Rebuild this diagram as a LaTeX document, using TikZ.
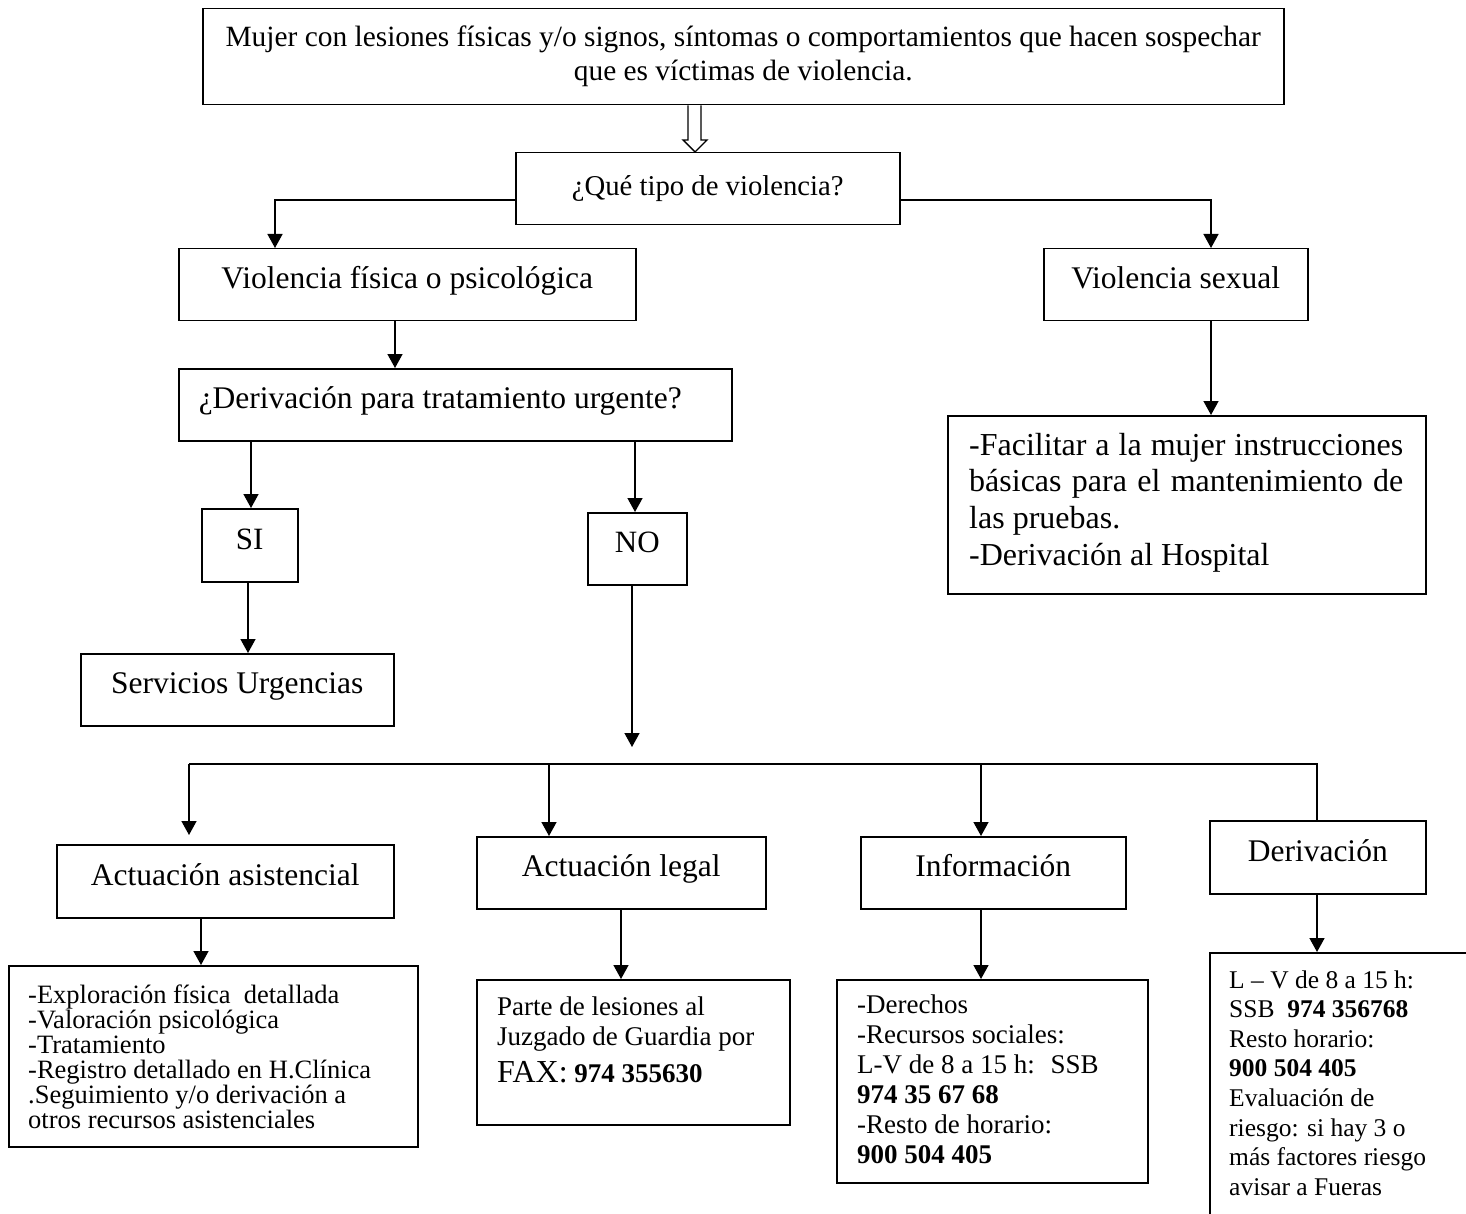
\documentclass[tikz,border=0pt]{standalone}
\usepackage{fontspec}
\setmainfont{Liberation Serif}
\usetikzlibrary{arrows.meta}
\newcommand\fsz[2]{\fontsize{#1}{#2}\selectfont}
\tikzset{
  box/.style={draw, line width=1.5pt, inner sep=0pt, anchor=north west, align=center},
  lbl/.style={text height=22pt, text depth=14pt},
  txt/.style={inner sep=0pt, anchor=base west, align=flush left},
  ln/.style={line width=1.5pt},
  arr/.style={line width=1.5pt, -{Triangle[length=14pt,width=15pt]}},
}
\begin{document}
\begin{tikzpicture}[x=1pt,y=-1pt]
\useasboundingbox (0,0) rectangle (1466,1214);
\fill[white] (0,0) rectangle (1466,1214);
\clip (0,0) rectangle (1466,1214);

% boxes
\node[box, minimum width=1081pt, minimum height=96pt, font=\fsz{29.4}{34}] (top) at (202,8)
  {Mujer con lesiones físicas y/o signos, síntomas o comportamientos que hacen sospechar\\que es víctimas de violencia.};
\node[box, minimum width=384pt, minimum height=72pt, font=\fsz{28.7}{30}] (tipo) at (515,152) {¿Qué tipo de violencia?};
\node[box, lbl, minimum width=457pt, minimum height=72pt, font=\fsz{31.5}{36}] (fis) at (178,248) {Violencia física o psicológica};
\node[box, lbl, minimum width=264pt, minimum height=72pt, font=\fsz{31.5}{36}] (sex) at (1043,248) {Violencia sexual};
\node[box, lbl, minimum height=72pt, inner xsep=20pt, text width=513pt, align=flush left, font=\fsz{31.5}{36}] (deriv) at (178,368) {¿Derivación para tratamiento urgente?};
\node[box, lbl, minimum width=96pt, minimum height=73pt, font=\fsz{31}{36}] (si) at (201,508) {SI};
\node[box, lbl, minimum width=99pt, minimum height=72pt, font=\fsz{31}{36}] (no) at (587,512) {NO};
\node[box, lbl, minimum width=313pt, minimum height=72pt, font=\fsz{31.5}{36}] (urg) at (80,653) {Servicios Urgencias};
\node[box, minimum width=478pt, minimum height=178pt] (sexinfo) at (947,415) {};
\node[box, lbl, minimum width=337pt, minimum height=73pt, font=\fsz{31.5}{36}] (asis) at (56,844) {Actuación asistencial};
\node[box, lbl, minimum width=289pt, minimum height=72pt, font=\fsz{31.5}{36}] (legal) at (476,836) {Actuación legal};
\node[box, lbl, minimum width=265pt, minimum height=72pt, font=\fsz{31.5}{36}] (info) at (860,836) {Información};
\node[box, lbl, minimum width=216pt, minimum height=73pt, font=\fsz{31.5}{36}] (derv) at (1209,820) {Derivación};
\node[box, minimum width=409pt, minimum height=181pt] (explo) at (8,965) {};
\node[box, minimum width=313pt, minimum height=145pt] (parte) at (476,979) {};
\node[box, minimum width=311pt, minimum height=203pt] (dere) at (836,979) {};
\node[box, minimum width=300pt, minimum height=300pt] (dright) at (1209,952) {};

% texts of the larger boxes
\node[txt, text width=434pt, font=\fsz{32}{36.7}] (sexinfot) at (969,455)
  {\makebox[\linewidth][s]{-Facilitar a la mujer instrucciones}\\
   \makebox[\linewidth][s]{básicas para el mantenimiento de}\\
   las pruebas.\\
   -Derivación al Hospital};
\node[txt, text width=390pt, font=\fsz{26.5}{25}] (explot) at (28,1003)
  {-Exploración física~ detallada\\
   -Valoración psicológica\\
   -Tratamiento\\
   -Registro detallado en H.Clínica\\
   .Seguimiento y/o derivación a\\
   otros recursos asistenciales};
\node[txt, text width=290pt, font=\fsz{27}{30}] (partet) at (497,1015)
  {Parte de lesiones al\\
   Juzgado de Guardia por\\[7pt]
   {\fsz{32}{30}FAX:} \textbf{974 355630}};
\node[txt, text width=285pt, font=\fsz{27}{30}] (deret) at (857,1013)
  {-Derechos\\
   -Recursos sociales:\\
   L-V de 8 a 15 h:~ SSB\\
   \textbf{974 35 67 68}\\
   -Resto de horario:\\
   \textbf{900 504 405}};
\node[txt, text width=230pt, font=\fsz{25.5}{29.6}] (drightt) at (1229,988)
  {L – V de 8 a 15 h:\\
   SSB~ \textbf{974 356768}\\
   Resto horario:\\
   \textbf{900 504 405}\\
   Evaluación de\\
   riesgo: si hay 3 o\\
   más factores riesgo\\
   avisar a Fueras};

% hollow arrow from top box to question box
\draw[line width=1.4pt, fill=white]
  (top.south -| 688,0) -- (688,140) -- (683,140) -- (695,152) -- (707,140) -- (701,140) -- (top.south -| 701,0);

% connector x positions
\coordinate (jl) at (275,200);
\coordinate (jr) at (1211,200);
\coordinate (c1) at (395,0);
\coordinate (c2) at (251,0);
\coordinate (c3) at (635,0);
\coordinate (c4) at (248,0);
\coordinate (c5) at (632,0);
\coordinate (noend) at (632,747);
\coordinate (b1) at (189,764);
\coordinate (b2) at (549,764);
\coordinate (b3) at (981,764);
\coordinate (b4) at (1317,764);
\coordinate (c6) at (201,0);
\coordinate (c7) at (621,0);

\draw[arr] (jl -| tipo.west) -- (jl) -- (jl |- fis.north);
\draw[arr] (jr -| tipo.east) -- (jr) -- (jr |- sex.north);
\draw[arr] (fis.south -| c1) -- (deriv.north -| c1);
\draw[arr] (deriv.south -| c2) -- (si.north -| c2);
\draw[arr] (deriv.south -| c3) -- (no.north -| c3);
\draw[arr] (si.south -| c4) -- (urg.north -| c4);
\draw[arr] (no.south -| c5) -- (noend);
\draw[arr] (sex.south -| jr) -- (sexinfo.north -| jr);

\draw[ln] (b1) -- (b4) -- (derv.north -| b4);
\draw[arr, shorten >=9pt] (b1) -- (asis.north -| b1);
\draw[arr] (b2) -- (legal.north -| b2);
\draw[arr] (b3) -- (info.north -| b3);

\draw[arr] (asis.south -| c6) -- (explo.north -| c6);
\draw[arr] (legal.south -| c7) -- (parte.north -| c7);
\draw[arr] (info.south -| b3) -- (dere.north -| b3);
\draw[arr] (derv.south -| b4) -- (dright.north -| b4);
\end{tikzpicture}
\end{document}
